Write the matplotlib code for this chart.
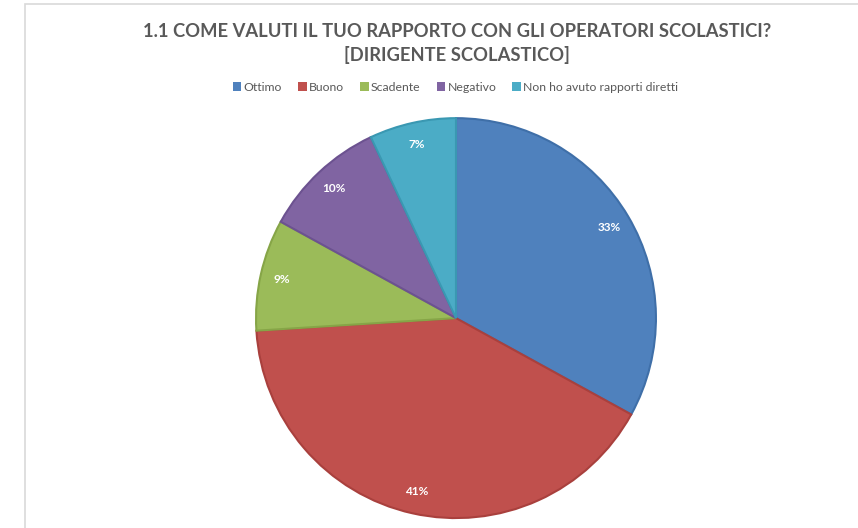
import numpy as np
import matplotlib
matplotlib.use('Agg')
import matplotlib.pyplot as plt
from matplotlib.patches import Rectangle, Patch

categorie = ['Ottimo', 'Buono', 'Scadente', 'Negativo', 'Non ho avuto rapporti diretti']
percentuali = [33, 41, 9, 10, 7]
colori = ['#4F81BD', '#C0504D', '#9BBB59', '#8064A2', '#4BACC6']
bordi = ['#3F6FA8', '#A9403D', '#86A547', '#6C5290', '#3A98B2']
titolo = '1.1 COME VALUTI IL TUO RAPPORTO CON GLI OPERATORI SCOLASTICI?\n[DIRIGENTE SCOLASTICO]'

plt.rcParams['font.family'] = ['Lato', 'DejaVu Sans']

fig = plt.figure(figsize=(8.58, 5.28), dpi=100, facecolor='white')

# cornice grigia del grafico (tagliata a destra e in basso)
fig.patches.append(Rectangle((24.5/858, -0.1), 1.2, (528-4.5)/528 + 0.1, transform=fig.transFigure,
                             fill=False, edgecolor='#D9D9D9', linewidth=1.2))

fig.text(0.533, 0.956, titolo, ha='center', va='top', fontsize=13.2, fontweight='bold',
         color='#595959', linespacing=1.38)

ax = fig.add_axes([0.296, 0.015, 0.4709, 0.765])
wedges, texts, autotexts = ax.pie(percentuali, colors=colori, startangle=90, counterclock=False,
                                  autopct='%d%%', pctdistance=0.89,
                                  wedgeprops=dict(linewidth=1.5),
                                  textprops=dict(color='white', fontsize=8.5, fontweight='bold'))
for w, b in zip(wedges, bordi):
    w.set_edgecolor(b)
ax.set_xlim(-1.01, 1.01)
ax.set_ylim(-1.01, 1.01)
ax.set_aspect('equal')

handles = [Patch(facecolor=c, edgecolor='none') for c in colori]
fig.legend(handles, categorie, loc='center', bbox_to_anchor=(0.531, 0.835), ncol=5, frameon=False,
           fontsize=8.8, handlelength=0.7, handleheight=0.7, handletextpad=0.2, columnspacing=1.3,
           labelcolor='#595959')

fig.savefig('out.png', dpi=100, facecolor='white')
